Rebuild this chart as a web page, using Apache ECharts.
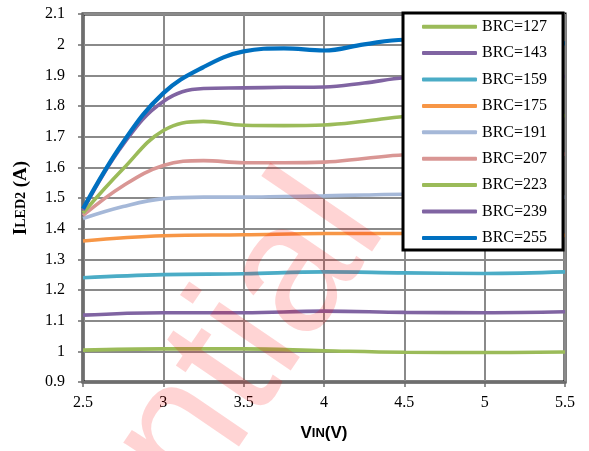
<!DOCTYPE html>
<html>
<head>
<meta charset="utf-8">
<script src="https://cdn.jsdelivr.net/npm/echarts@6/dist/echarts.min.js"></script>
<style>
html,body{margin:0;padding:0;background:#fff;}
#chart{width:589px;height:451px;}
</style>
</head>
<body>
<div id="chart"></div>
<script>
// X positions (V_IN)
var vinFine = [2.5, 2.75, 3, 3.25, 3.5, 3.75, 4, 4.25, 4.5, 4.75, 5, 5.25, 5.5];
var vinCoarse = [2.5, 3, 3.5, 4, 4.5, 5, 5.5];

// Series values (I_LED2 in A)
var brc127 = [1.004, 1.008, 1.008, 1.002, 0.997, 0.996, 0.998];
var brc143 = [1.118, 1.126, 1.126, 1.131, 1.127, 1.126, 1.129];
var brc159 = [1.240, 1.250, 1.253, 1.259, 1.256, 1.254, 1.259];
var brc175 = [1.360, 1.377, 1.380, 1.384, 1.384, 1.382, 1.378];
var brc191 = [1.433, 1.472, 1.498, 1.503, 1.503, 1.505, 1.507, 1.510, 1.512, 1.512, 1.510, 1.506, 1.503];
var brc207 = [1.443, 1.540, 1.606, 1.622, 1.615, 1.615, 1.617, 1.629, 1.641, 1.645, 1.645, 1.644, 1.643];
var brc223 = [1.451, 1.595, 1.720, 1.750, 1.737, 1.736, 1.738, 1.750, 1.766, 1.770, 1.770, 1.769, 1.768];
var brc239 = [1.460, 1.675, 1.815, 1.857, 1.859, 1.861, 1.862, 1.875, 1.892, 1.896, 1.897, 1.897, 1.896];
var brc255 = [1.465, 1.682, 1.842, 1.927, 1.978, 1.988, 1.981, 2.001, 2.016, 2.016, 2.013, 2.008, 2.004];

var seriesNames = ['BRC=127','BRC=143','BRC=159','BRC=175','BRC=191','BRC=207','BRC=223','BRC=239','BRC=255'];
var seriesValues = [brc127, brc143, brc159, brc175, brc191, brc207, brc223, brc239, brc255];
var seriesX = [vinCoarse, vinCoarse, vinCoarse, vinCoarse, vinFine, vinFine, vinFine, vinFine, vinFine];
var seriesColors = ['#9BBB59','#8064A2','#4BACC6','#F79646','#A5B8D8','#D99694','#9BBB59','#8064A2','#0070C0'];

var chart = echarts.init(document.getElementById('chart'), null, {renderer:'canvas'});

var series = seriesNames.map(function(name, k){
  return {
    name: name,
    type: 'line',
    smooth: 0.4,
    symbol: 'none',
    showSymbol: false,
    data: seriesX[k].map(function(x, i){ return [x, seriesValues[k][i]]; }),
    lineStyle: {color: seriesColors[k], width: k === 8 ? 4.2 : 3.6},
    itemStyle: {color: seriesColors[k]},
    z: 2 + k * 0.01
  };
});

var serif = '"Liberation Serif", "Times New Roman", serif';
var sans = '"Liberation Sans", Arial, sans-serif';

chart.setOption({
  animation: false,
  backgroundColor: '#fff',
  grid: {left: 83, right: 24, top: 14, bottom: 69, show: true, borderColor: '#000', borderWidth: 3, backgroundColor: 'transparent'},
  xAxis: {
    type: 'value', min: 2.5, max: 5.5, interval: 0.5,
    name: '{v|V}{s|IN}{v|(V)}',
    nameLocation: 'middle', nameGap: 43,
    nameTextStyle: {rich: {
      v: {fontFamily: sans, fontWeight: 'bold', fontSize: 17, color: '#000'},
      s: {fontFamily: sans, fontWeight: 'bold', fontSize: 13, color: '#000'}
    }},
    axisLine: {show: true, lineStyle: {color: '#6e6e6e', width: 2}},
    axisTick: {show: true, inside: false, length: 5, lineStyle: {color: '#6e6e6e', width: 1.5}},
    axisLabel: {fontFamily: serif, fontSize: 16, color: '#000', margin: 13},
    splitLine: {show: true, lineStyle: {color: '#8a8a8a', width: 2}}
  },
  yAxis: {
    type: 'value', min: 0.9, max: 2.1, interval: 0.1,
    name: '{a|I}{b|LED2}{a| (A)}',
    nameLocation: 'middle', nameGap: 52, nameRotate: 90,
    nameTextStyle: {rich: {
      a: {fontFamily: serif, fontWeight: 'bold', fontSize: 19, color: '#000'},
      b: {fontFamily: serif, fontWeight: 'bold', fontSize: 14, color: '#000'}
    }},
    axisLine: {show: true, lineStyle: {color: '#6e6e6e', width: 2}},
    axisTick: {show: true, inside: false, length: 5, lineStyle: {color: '#6e6e6e', width: 1.5}},
    axisLabel: {fontFamily: serif, fontSize: 16, color: '#000', margin: 18},
    splitLine: {show: true, lineStyle: {color: '#8a8a8a', width: 2}}
  },
  legend: {
    orient: 'vertical',
    left: 403, top: 13,
    padding: [5.7, 16, 4, 19],
    itemGap: 10.4,
    itemWidth: 55, itemHeight: 4,
    icon: 'roundRect',
    selectedMode: false,
    backgroundColor: '#fff',
    borderColor: '#000', borderWidth: 3,
    textStyle: {fontFamily: serif, fontSize: 16, color: '#000', lineHeight: 16},
    data: seriesNames
  },
  graphic: [{
    type: 'text',
    x: 346, y: 199,
    rotation: 55.7 * Math.PI / 180,
    silent: true,
    z: 100,
    style: {
      text: 'ntial',
      font: 'normal 185px "Liberation Sans", Arial, sans-serif',
      fill: 'rgba(255,0,0,0.17)',
      align: 'right',
      verticalAlign: 'middle'
    }
  }],
  series: series
});
</script>
</body>
</html>
